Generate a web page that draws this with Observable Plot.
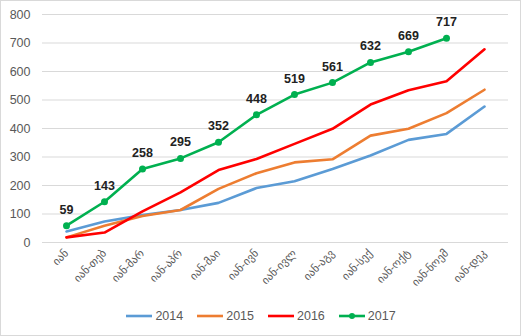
<!DOCTYPE html>
<html>
<head>
<meta charset="utf-8">
<script src="https://cdn.jsdelivr.net/npm/d3@7"></script>
<script src="https://cdn.jsdelivr.net/npm/@observablehq/plot@0.6"></script>
<style>
  body { margin: 0; background: #fff; }
  #wrap { position: relative; width: 522px; height: 336px; font-family: "Liberation Sans", "DejaVu Sans", sans-serif; }
  #frame { position: absolute; left: 0; top: 0; width: 519px; height: 334px; border: 1px solid #d9d9d9; pointer-events: none; }
  #chart { position: absolute; left: 0; top: 0; }
  #legend { position: absolute; left: 0; top: 309px; width: 522px; display: flex; justify-content: center; gap: 14px; font-size: 12.5px; color: #595959; }
  .item { display: flex; align-items: center; gap: 3px; }
</style>
</head>
<body>
<div id="wrap"><div id="chart"></div><div id="legend"></div><div id="frame"></div></div>
<script>
const months = ["იან","იან-თებ","იან-მარ","იან-აპრ","იან-მაი","იან-ივნ","იან-ივლ","იან-აგვ","იან-სექ","იან-ოქტ","იან-ნოემ","იან-დეკ"];
const seriesNames = ["2014","2015","2016","2017"];
const v2014 = [39,74,96,114,139,191,215,258,305,360,381,477];
const v2015 = [18,59,93,114,188,243,281,292,375,399,454,536];
const v2016 = [18,35,109,176,254,293,346,399,484,534,566,678];
const v2017 = [59,143,258,295,352,448,519,561,632,669,717];
const yTicks = [0,100,200,300,400,500,600,700,800];
const colors = ["#5B9BD5","#ED7D31","#FF0000","#00B050"];

const all = [v2014, v2015, v2016, v2017];
const rows = [];
all.forEach((vals, si) => vals.forEach((v, i) => rows.push({month: months[i], series: seriesNames[si], value: v})));
const green = rows.filter(d => d.series === "2017");

const chart = Plot.plot({
  width: 522, height: 300,
  marginLeft: 42, marginRight: 14, marginTop: 14, marginBottom: 58,
  style: {fontFamily: "'Liberation Sans', 'DejaVu Sans', sans-serif", background: "transparent"},
  x: {type: "point", domain: months, padding: 0.5, label: null},
  y: {domain: [0, 800], label: null},
  color: {domain: seriesNames, range: colors},
  marks: [
    Plot.gridY(yTicks, {stroke: "#d9d9d9", strokeOpacity: 1}),
    Plot.axisY(yTicks, {tickSize: 0, tickPadding: 12, fontSize: 12.5, fill: "#595959", label: null}),
    Plot.axisX({tickSize: 0, tickRotate: -45, tickPadding: 9, fontSize: 11, fill: "#595959", label: null}),
    Plot.lineY(rows, {x: "month", y: "value", stroke: "series", z: "series", strokeWidth: 2.6}),
    Plot.dot(green, {x: "month", y: "value", r: 3.5, fill: colors[3]}),
    Plot.text(green, {x: "month", y: "value", text: d => String(d.value), dy: -16, fontSize: 12.5, fontWeight: "bold", fill: "#222"})
  ]
});
document.getElementById("chart").appendChild(chart);

const legend = document.getElementById("legend");
seriesNames.forEach((s, i) => {
  const item = document.createElement("div");
  item.className = "item";
  const dot = i === 3 ? `<circle cx="13" cy="5" r="3" fill="${colors[i]}"/>` : "";
  item.innerHTML = `<svg width="26" height="10"><line x1="0" x2="26" y1="5" y2="5" stroke="${colors[i]}" stroke-width="2.6"/>${dot}</svg><span>${s}</span>`;
  legend.appendChild(item);
});
</script>
</body>
</html>
